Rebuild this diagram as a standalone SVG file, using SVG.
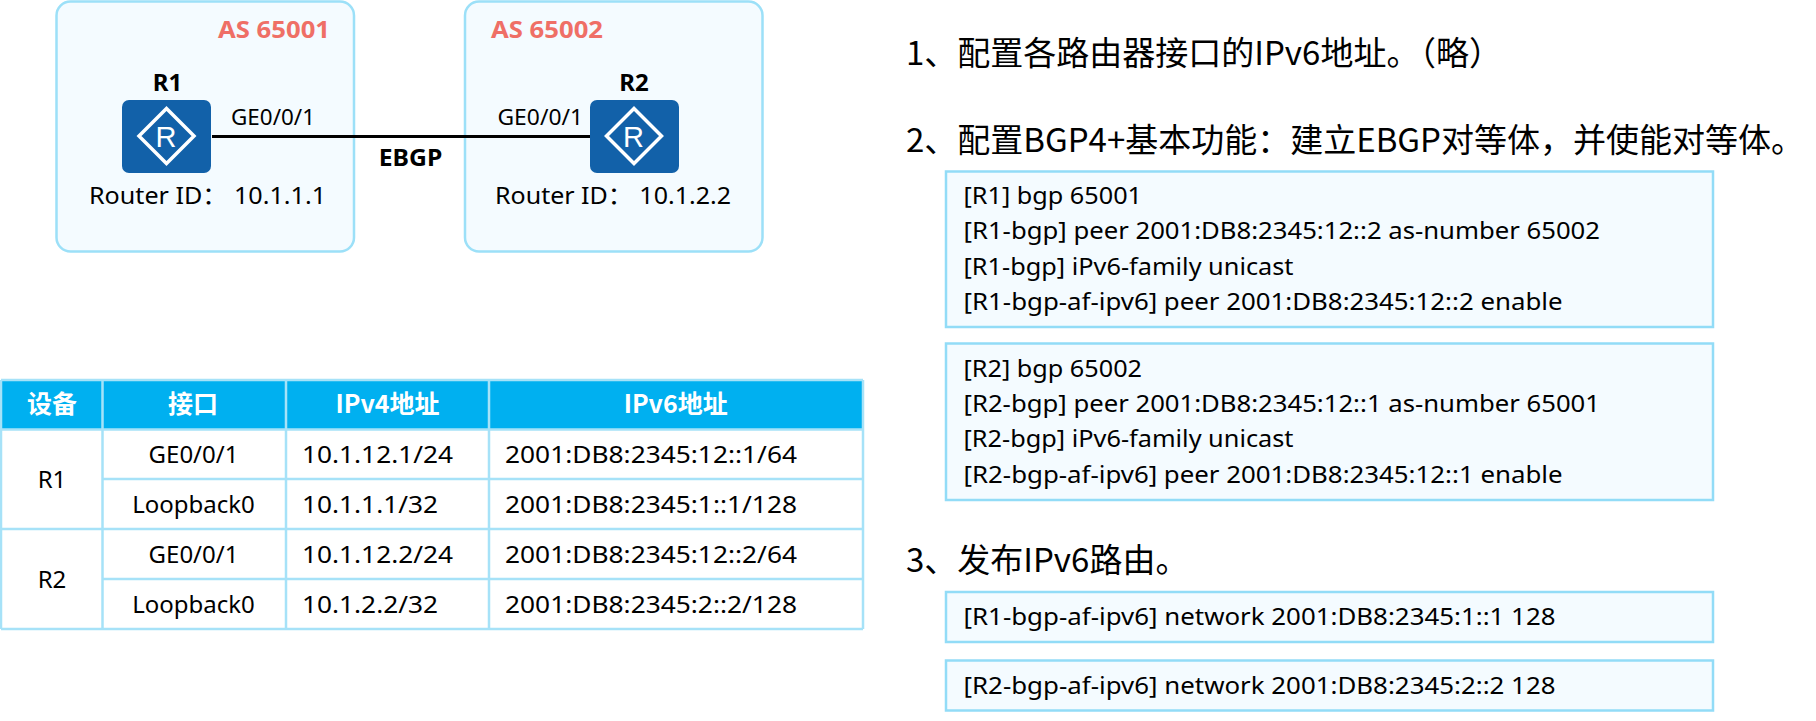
<svg xmlns="http://www.w3.org/2000/svg" width="1816" height="721" viewBox="0 0 1816 721">
<style>
text{font-family:"Noto Sans","Noto Sans CJK SC",sans-serif;fill:#000}
.as{fill:#F4FBFF;stroke:#9CE0F8;stroke-width:2.5}
.code{fill:#F4FBFF;stroke:#92DCF7;stroke-width:2.5}
.asl{font-size:24px;font-weight:700;fill:#EF6F66}
.b{font-size:24px;font-weight:700;text-anchor:middle}
.t{font-size:22px}
.rid{font-size:24px}
.td{font-size:24px}
.c{text-anchor:middle}
.th{font-size:25px;font-weight:700;fill:#fff;text-anchor:middle;font-family:"Noto Sans CJK SC",sans-serif}
.h{font-size:33px;font-family:"Noto Sans CJK SC",sans-serif}
.cd{font-size:24px}
.grid{stroke:#A6E2F8;stroke-width:2.5;fill:none}
.rt{fill:#1261A9}
.dm{fill:none;stroke:#fff;stroke-width:3.5}
.rl{font:29px "Liberation Sans",sans-serif;fill:#fff;text-anchor:middle}
</style>
<rect class="as" x="56.5" y="1.5" width="297.500" height="250" rx="14"/>
<rect class="as" x="465" y="1.5" width="297.500" height="250" rx="14"/>
<text class="asl" x="218" y="38" textLength="112" lengthAdjust="spacingAndGlyphs">AS 65001</text>
<text class="asl" x="491" y="38" textLength="112" lengthAdjust="spacingAndGlyphs">AS 65002</text>
<g id="connectors"><line x1="212" y1="136.500" x2="590" y2="136.500" stroke="#000" stroke-width="3.200"/></g>
<g id="R1">
<rect class="rt" x="122" y="100" width="89" height="73" rx="7"/>
<path class="dm" d="M166.500 108.500L194 136L166.500 163.500L139 136Z"/>
<text class="rl" x="166" y="147">R</text>
<text class="b" x="167.500" y="91">R1</text>
<text class="t" x="231" y="125" textLength="84" lengthAdjust="spacingAndGlyphs">GE0/0/1</text>
<text class="rid" x="89" y="204" textLength="237" lengthAdjust="spacingAndGlyphs">Router ID：  10.1.1.1</text>
</g>
<g id="R2">
<rect class="rt" x="590" y="100" width="89" height="73" rx="7"/>
<path class="dm" d="M634 108.500L661.500 136L634 163.500L606.500 136Z"/>
<text class="rl" x="633.500" y="147">R</text>
<text class="b" x="634" y="91">R2</text>
<text class="t" x="497.500" y="125" textLength="85.500" lengthAdjust="spacingAndGlyphs">GE0/0/1</text>
<text class="rid" x="495" y="204" textLength="236" lengthAdjust="spacingAndGlyphs">Router ID：  10.1.2.2</text>
</g>
<text class="b" x="410.500" y="166" textLength="63.500" lengthAdjust="spacingAndGlyphs">EBGP</text>
<g id="table">
<rect x="1" y="380" width="862" height="49.500" fill="#00B0F0"/>
<path class="grid" d="M1 380H863M1 429.500H863M102.500 479H863M1 529H863M102.500 579H863M1 629H863M1 380V629M102.500 380V629M286 380V629M489 380V629M863 380V629"/>
<text class="th" x="52" y="413">设备</text>
<text class="th" x="193" y="413">接口</text>
<text class="th" x="387.500" y="413">IPv4地址</text>
<text class="th" x="675.700" y="413">IPv6地址</text>
<text class="td c" x="52" y="488">R1</text>
<text class="td c" x="52" y="588">R2</text>
<text class="td c" x="193.500" y="463">GE0/0/1</text>
<text class="td c" x="193.500" y="513">Loopback0</text>
<text class="td c" x="193.500" y="563">GE0/0/1</text>
<text class="td c" x="193.500" y="613">Loopback0</text>
<text class="td" x="302" y="463" textLength="151" lengthAdjust="spacingAndGlyphs">10.1.12.1/24</text>
<text class="td" x="302" y="513" textLength="136" lengthAdjust="spacingAndGlyphs">10.1.1.1/32</text>
<text class="td" x="302" y="563" textLength="151" lengthAdjust="spacingAndGlyphs">10.1.12.2/24</text>
<text class="td" x="302" y="613" textLength="136" lengthAdjust="spacingAndGlyphs">10.1.2.2/32</text>
<text class="td" x="505" y="463" textLength="292" lengthAdjust="spacingAndGlyphs">2001:DB8:2345:12::1/64</text>
<text class="td" x="505" y="513" textLength="292" lengthAdjust="spacingAndGlyphs">2001:DB8:2345:1::1/128</text>
<text class="td" x="505" y="563" textLength="292" lengthAdjust="spacingAndGlyphs">2001:DB8:2345:12::2/64</text>
<text class="td" x="505" y="613" textLength="292" lengthAdjust="spacingAndGlyphs">2001:DB8:2345:2::2/128</text>
</g>
<g id="steps">
<text class="h" x="906" y="65">1、配置各路由器接口的IPv6地址。（略）</text>
<text class="h" x="906" y="152">2、配置BGP4+基本功能：建立EBGP对等体，并使能对等体。</text>
<text class="h" x="906" y="572">3、发布IPv6路由。</text>
</g>
<g id="code1">
<rect class="code" x="946" y="171.500" width="767" height="155.500"/>
<text class="cd" x="963.500" y="204" textLength="178.500" lengthAdjust="spacingAndGlyphs">[R1] bgp 65001</text>
<text class="cd" x="963.500" y="239" textLength="636.500" lengthAdjust="spacingAndGlyphs">[R1-bgp] peer 2001:DB8:2345:12::2 as-number 65002</text>
<text class="cd" x="963.500" y="275" textLength="330" lengthAdjust="spacingAndGlyphs">[R1-bgp] iPv6-family unicast</text>
<text class="cd" x="963.500" y="310" textLength="599" lengthAdjust="spacingAndGlyphs">[R1-bgp-af-ipv6] peer 2001:DB8:2345:12::2 enable</text>
</g>
<g id="code2">
<rect class="code" x="946" y="343.500" width="767" height="156.500"/>
<text class="cd" x="963.500" y="377" textLength="178.500" lengthAdjust="spacingAndGlyphs">[R2] bgp 65002</text>
<text class="cd" x="963.500" y="412" textLength="636.500" lengthAdjust="spacingAndGlyphs">[R2-bgp] peer 2001:DB8:2345:12::1 as-number 65001</text>
<text class="cd" x="963.500" y="447" textLength="330" lengthAdjust="spacingAndGlyphs">[R2-bgp] iPv6-family unicast</text>
<text class="cd" x="963.500" y="483" textLength="599" lengthAdjust="spacingAndGlyphs">[R2-bgp-af-ipv6] peer 2001:DB8:2345:12::1 enable</text>
</g>
<g id="code3">
<rect class="code" x="946" y="592" width="767" height="50"/>
<text class="cd" x="963.500" y="625" textLength="592" lengthAdjust="spacingAndGlyphs">[R1-bgp-af-ipv6] network 2001:DB8:2345:1::1 128</text>
</g>
<g id="code4">
<rect class="code" x="946" y="660.500" width="767" height="50"/>
<text class="cd" x="963.500" y="694" textLength="592" lengthAdjust="spacingAndGlyphs">[R2-bgp-af-ipv6] network 2001:DB8:2345:2::2 128</text>
</g>
</svg>
